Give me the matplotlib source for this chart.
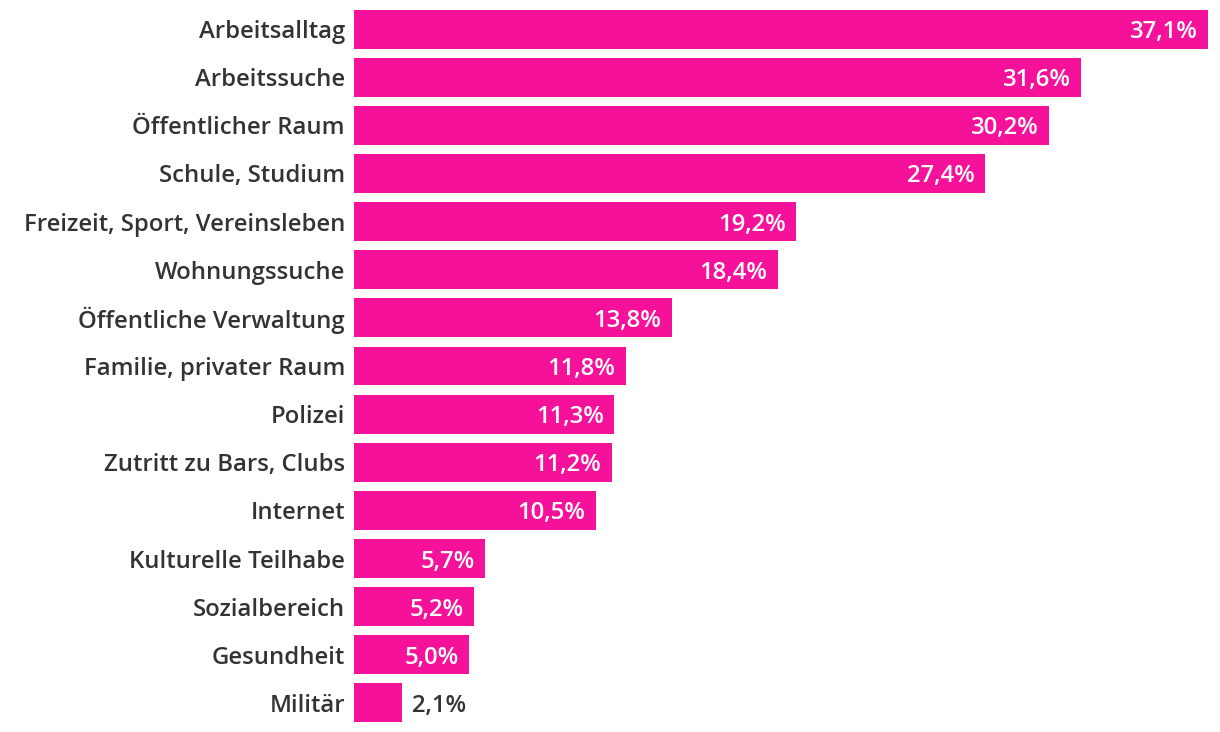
import matplotlib.pyplot as plt

categories = [
    "Arbeitsalltag", "Arbeitssuche", "Öffentlicher Raum", "Schule, Studium",
    "Freizeit, Sport, Vereinsleben", "Wohnungssuche", "Öffentliche Verwaltung",
    "Familie, privater Raum", "Polizei", "Zutritt zu Bars, Clubs", "Internet",
    "Kulturelle Teilhabe", "Sozialbereich", "Gesundheit", "Militär",
]
values = [37.1, 31.6, 30.2, 27.4, 19.2, 18.4, 13.8, 11.8, 11.3, 11.2, 10.5, 5.7, 5.2, 5.0, 2.1]

BAR_COLOR = "#F5119A"
TEXT_COLOR = "#333333"
FONT_SIZE = 17.2

plt.rcParams["font.family"] = ["Open Sans", "DejaVu Sans"]

fig = plt.figure(figsize=(12.2, 7.32), dpi=100)
ax = fig.add_axes([354 / 1220, 5 / 732, 854 / 1220, 722 / 732])

y = list(range(len(categories)))
ax.barh(y, values, height=0.81, color=BAR_COLOR)
ax.set_xlim(0, max(values))
ax.set_ylim(len(categories) - 0.5, -0.5)

ax.set_yticks(y)
ax.set_yticklabels(categories, fontsize=FONT_SIZE, color=TEXT_COLOR, fontweight="semibold")
ax.tick_params(axis="y", length=0, pad=6.5)
ax.set_xticks([])
for s in ax.spines.values():
    s.set_visible(False)

for yi, v in zip(y, values):
    label = f"{v:.1f}%".replace(".", ",")
    if v > 4:
        ax.annotate(label, (v, yi), xytext=(-7.5, 0), textcoords="offset points",
                    ha="right", va="center_baseline", color="white", fontsize=FONT_SIZE,
                    fontweight="semibold")
    else:
        ax.annotate(label, (v, yi), xytext=(7, 0), textcoords="offset points",
                    ha="left", va="center_baseline", color=TEXT_COLOR, fontsize=FONT_SIZE,
                    fontweight="semibold")

fig.savefig("out.png", dpi=100)
